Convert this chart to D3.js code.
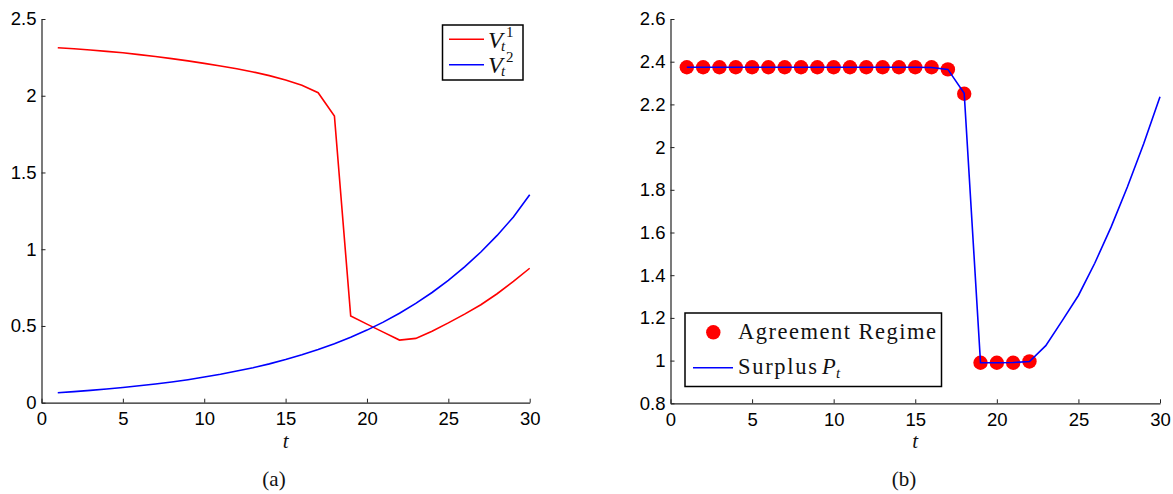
<!DOCTYPE html>
<html><head><meta charset="utf-8">
<script src="https://cdn.jsdelivr.net/npm/d3@7"></script>
<style>
html,body{margin:0;padding:0;background:#fff;}
svg{display:block;}
.serif{font-family:"Liberation Serif","Times New Roman",serif;fill:#111;}
</style></head>
<body>
<svg id="c" width="1173" height="494"></svg>
<script>
// ---------- data ----------
const T  = [1,2,3,4,5,6,7,8,9,10,11,12,13,14,15,16,17,18,19,20,21,22,23,24,25,26,27,28,29,30];
const V1 = [2.313,2.306,2.298,2.289,2.280,2.268,2.256,2.242,2.227,2.211,2.194,2.176,2.155,2.131,2.102,2.068,2.020,1.868,0.565,0.512,0.460,0.408,0.419,0.466,0.520,0.577,0.638,0.710,0.790,0.876];
const V2 = [0.065,0.072,0.080,0.089,0.099,0.110,0.122,0.135,0.150,0.167,0.185,0.206,0.228,0.253,0.281,0.312,0.346,0.384,0.426,0.473,0.525,0.583,0.647,0.718,0.797,0.885,0.982,1.090,1.210,1.355];
const P  = [2.374,2.374,2.374,2.374,2.374,2.374,2.374,2.374,2.374,2.374,2.374,2.374,2.374,2.374,2.374,2.373,2.364,2.252,0.990,0.990,0.991,0.996,1.070,1.186,1.305,1.456,1.625,1.813,2.016,2.236];
const regimeT = [1,2,3,4,5,6,7,8,9,10,11,12,13,14,15,16,17,18,19,20,21,22];
const regimeV = [2.374,2.374,2.374,2.374,2.374,2.374,2.374,2.374,2.374,2.374,2.374,2.374,2.374,2.374,2.374,2.374,2.364,2.250,0.990,0.990,0.990,0.996];
const xTicks  = [0,5,10,15,20,25,30];
const yTicksA = [0,0.5,1,1.5,2,2.5];
const yTicksB = [0.8,1,1.2,1.4,1.6,1.8,2,2.2,2.4,2.6];
const labelsA = ["V","V"];
const supA = ["1","2"];
const legendB = ["Agreement Regime","Surplus "];
const captions = ["(a)","(b)"];

const svg = d3.select("#c");
const fmt = d => String(+d.toFixed(1));
const SANS = "'Liberation Sans', Arial, Helvetica, sans-serif";

function panel(x0,x1,y0,y1,yDom,yTicks){
  const g = svg.append("g");
  const x = d3.scaleLinear().domain([0,30]).range([x0,x1]);
  const y = d3.scaleLinear().domain(yDom).range([y0,y1]);
  const ax = g.append("g").attr("transform",`translate(0,${y0})`)
    .call(d3.axisBottom(x).tickValues(xTicks).tickFormat(fmt).tickSizeInner(-4).tickSizeOuter(0).tickPadding(9.5));
  const ay = g.append("g").attr("transform",`translate(${x0},0)`)
    .call(d3.axisLeft(y).tickValues(yTicks).tickFormat(fmt).tickSizeInner(-4).tickSizeOuter(0).tickPadding(5));
  [ax,ay].forEach(a=>{
    a.attr("font-family",SANS).attr("font-size",18.5);
    a.selectAll(".tick text").attr("fill","#000").style("font-family",SANS).style("font-size","18.5px");
    a.select(".domain").attr("stroke","#222").attr("stroke-width",1.2);
    a.selectAll(".tick line").attr("stroke","#222").attr("stroke-width",1);});
  g.append("text").attr("class","serif").attr("x",(x0+x1)/2).attr("y",448)
    .attr("text-anchor","middle").attr("font-style","italic").attr("font-size",21).text("t");
  return {g,x,y};
}

// ---------- panel (a) ----------
const A = panel(41.5,529.7,402.7,19,[0,2.5],yTicksA);
const lineA = d3.line().x((d,i)=>A.x(T[i])).y(d=>A.y(d));
A.g.append("path").attr("d",lineA(V1)).attr("fill","none").attr("stroke","#ff0000").attr("stroke-width",1.6);
A.g.append("path").attr("d",lineA(V2)).attr("fill","none").attr("stroke","#0000ff").attr("stroke-width",1.6);

// legend (a)
const la = A.g.append("g");
la.append("rect").attr("x",442.5).attr("y",25).attr("width",80.5).attr("height",55)
  .attr("fill","#fff").attr("stroke","#000").attr("stroke-width",1.5);
const colsA = ["#ff0000","#0000ff"];
[0,1].forEach(i=>{
  const ly = 39.3 + i*25.4, base = 48.3 + i*25;
  la.append("line").attr("x1",449).attr("x2",484).attr("y1",ly).attr("y2",ly)
    .attr("stroke",colsA[i]).attr("stroke-width",1.6);
  la.append("text").attr("class","serif").attr("x",488).attr("y",base)
    .attr("font-style","italic").attr("font-size",24).text(labelsA[i]);
  la.append("text").attr("class","serif").attr("x",506).attr("y",base-11)
    .attr("font-size",15).text(supA[i]);
  la.append("text").attr("class","serif").attr("x",501).attr("y",base+2.6)
    .attr("font-style","italic").attr("font-size",15).text("t");
});

// ---------- panel (b) ----------
const B = panel(670.5,1160,403.3,19,[0.8,2.6],yTicksB);
B.g.selectAll("circle.reg").data(regimeT).join("circle").attr("class","reg")
  .attr("cx",d=>B.x(d)).attr("cy",(d,i)=>B.y(regimeV[i])).attr("r",7.2).attr("fill","#ff0000");
const lineB = d3.line().x((d,i)=>B.x(T[i])).y(d=>B.y(d));
B.g.append("path").attr("d",lineB(P)).attr("fill","none").attr("stroke","#0000ff").attr("stroke-width",1.6);

// legend (b)
const lb = B.g.append("g");
lb.append("rect").attr("x",685).attr("y",313).attr("width",256.5).attr("height",73.5)
  .attr("fill","#fff").attr("stroke","#000").attr("stroke-width",1.5);
lb.append("circle").attr("cx",713.3).attr("cy",332.3).attr("r",7.2).attr("fill","#ff0000");
lb.append("line").attr("x1",693).attr("x2",733).attr("y1",367.7).attr("y2",367.7)
  .attr("stroke","#0000ff").attr("stroke-width",1.6);
lb.append("text").attr("class","serif").attr("x",738).attr("y",338.5).attr("font-size",22.5)
  .attr("textLength",198).attr("lengthAdjust","spacing").text(legendB[0]);
lb.append("text").attr("class","serif").attr("x",738).attr("y",373.5).attr("font-size",22.5)
  .attr("textLength",79).attr("lengthAdjust","spacing").text(legendB[1].trim());
lb.append("text").attr("class","serif").attr("x",822).attr("y",373.5).attr("font-size",22.5)
  .attr("font-style","italic").text("P");
lb.append("text").attr("class","serif").attr("x",836).attr("y",377.5).attr("font-size",15)
  .attr("font-style","italic").text("t");

// captions
svg.append("text").attr("class","serif").attr("x",274).attr("y",486).attr("text-anchor","middle")
  .attr("font-size",21).text(captions[0]);
svg.append("text").attr("class","serif").attr("x",904).attr("y",486).attr("text-anchor","middle")
  .attr("font-size",21).text(captions[1]);
</script>
</body></html>
